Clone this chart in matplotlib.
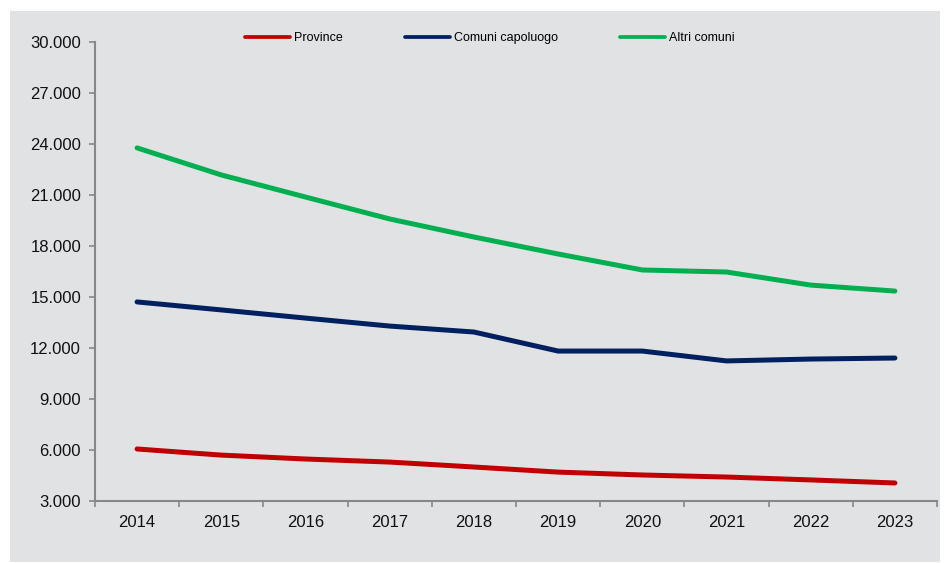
import matplotlib.pyplot as plt
from matplotlib.patches import Rectangle
from matplotlib.legend import Legend
from matplotlib.lines import Line2D
from matplotlib.ticker import FuncFormatter

years = ['2014', '2015', '2016', '2017', '2018', '2019', '2020', '2021', '2022', '2023']
province = [6060, 5700, 5470, 5290, 5000, 4700, 4530, 4410, 4240, 4060]
capoluogo = [14710, 14240, 13760, 13290, 12940, 11820, 11820, 11240, 11350, 11410]
altri = [23770, 22180, 20880, 19590, 18530, 17530, 16590, 16470, 15700, 15350]

bg = '#e1e2e4'
axcol = '#878787'
plt.rcParams['font.family'] = ['Liberation Sans', 'DejaVu Sans']

fig = plt.figure(figsize=(9.44, 5.63), dpi=100)
fig.patches.append(Rectangle((10/944, 1/563), 930/944, 551/563, transform=fig.transFigure,
                             facecolor=bg, edgecolor='none', zorder=-1))
ax = fig.add_axes([95/944, 62/563, 842/944, 459/563])
ax.set_zorder(1)
ax.set_facecolor(bg)

x = range(len(years))
series = [(province, '#c00000', 'Province', 0.178),
          (capoluogo, '#002060', 'Comuni capoluogo', 0.368),
          (altri, '#00b050', 'Altri comuni', 0.624)]

for vals, col, lab, xpos in series:
    ax.plot(x, vals, color=col, lw=3.6, solid_capstyle='round', solid_joinstyle='round')
    # separate legend entries, spaced like the original
    h = Line2D([], [], color=col, lw=2.7, solid_capstyle='round')
    leg = Legend(ax, [h], [lab], loc='center left', bbox_to_anchor=(xpos, 1.008),
                 frameon=False, fontsize=9, handlelength=3.6, handletextpad=0.3,
                 borderpad=0, borderaxespad=0)
    ax.add_artist(leg)

ax.set_ylim(3000, 30000)
ax.set_yticks(range(3000, 30001, 3000))
ax.yaxis.set_major_formatter(FuncFormatter(lambda v, p: f'{int(v):,}'.replace(',', '.')))
ax.set_xlim(-0.5, len(years) - 0.5)
ax.set_xticks([i - 0.5 for i in range(len(years) + 1)])
ax.set_xticklabels([])
ax.set_xticks(list(x), minor=True)
ax.set_xticklabels(years, minor=True)

for s in ['top', 'right']:
    ax.spines[s].set_visible(False)
for s in ['left', 'bottom']:
    ax.spines[s].set_color(axcol)
    ax.spines[s].set_linewidth(1.5)
ax.tick_params(axis='y', length=4, width=1.2, color=axcol, pad=6, labelsize=12, labelcolor='#111111')
ax.tick_params(axis='x', which='major', length=4, width=1.2, color=axcol)
ax.tick_params(axis='x', which='minor', length=0, pad=10, labelsize=12, labelcolor='#111111')

fig.savefig('out.png', dpi=100, facecolor='white')
